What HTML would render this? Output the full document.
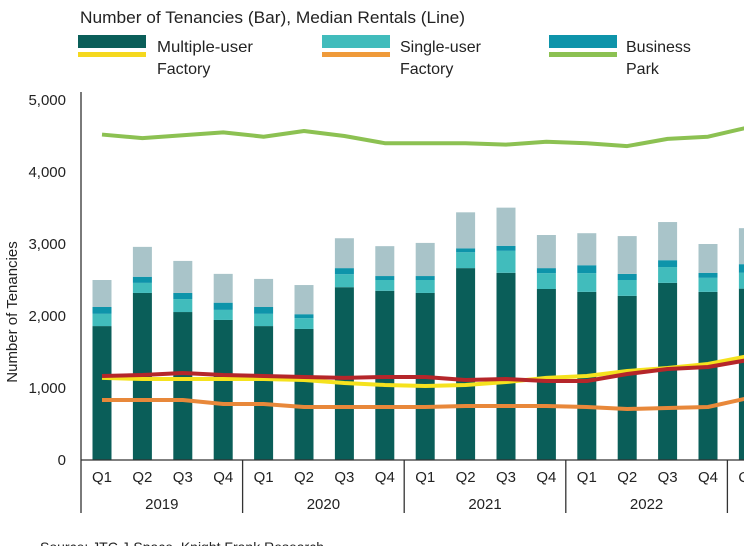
<!DOCTYPE html>
<html><head><meta charset="utf-8"><style>
html,body{margin:0;padding:0;background:#fff;overflow:hidden}
svg{display:block;font-family:"Liberation Sans",sans-serif}
</style></head><body>
<svg id="chart" width="744" height="546" viewBox="0 0 744 546">
<text x="80" y="23" font-size="16.5" fill="#222" textLength="385" lengthAdjust="spacingAndGlyphs">Number of Tenancies (Bar), Median Rentals (Line)</text>
<g>
<rect x="78" y="35" width="68" height="13" fill="#0a5e59"/>
<rect x="78" y="52" width="68" height="5" fill="#f5d81e"/>
<text x="157" y="52" font-size="16" fill="#222" textLength="96" lengthAdjust="spacingAndGlyphs">Multiple-user</text>
<text x="157" y="74" font-size="16" fill="#222">Factory</text>
<rect x="322" y="35" width="68" height="13" fill="#41bcbc"/>
<rect x="322" y="52" width="68" height="5" fill="#ef9a3a"/>
<text x="400" y="52" font-size="16" fill="#222">Single-user</text>
<text x="400" y="74" font-size="16" fill="#222">Factory</text>
<rect x="549" y="35" width="68" height="13" fill="#0e94aa"/>
<rect x="549" y="52" width="68" height="5" fill="#8cc152"/>
<text x="626" y="52" font-size="16" fill="#222">Business</text>
<text x="626" y="74" font-size="16" fill="#222">Park</text>
</g>
<text transform="translate(17,312) rotate(-90)" text-anchor="middle" font-size="15" fill="#222">Number of Tenancies</text>
<g id="plot"></g>
<text x="40" y="552" font-size="14" fill="#222">Source: JTC J-Space, Knight Frank Research</text>
</svg>
<script>
const quarters=["Q1","Q2","Q3","Q4","Q1","Q2","Q3","Q4","Q1","Q2","Q3","Q4","Q1","Q2","Q3","Q4","Q1"];
const years=["2019","2020","2021","2022","2023"];
const multipleUser=[1860,2320,2055,1945,1860,1820,2400,2350,2320,2665,2600,2375,2335,2280,2460,2335,2380];
const singleUser=[170,140,180,140,170,150,180,150,180,220,305,220,260,220,220,195,220];
const businessPark=[95,85,85,100,95,55,85,55,55,55,70,70,110,85,95,70,120];
const others=[375,415,445,400,390,405,415,415,460,500,530,460,445,525,530,400,500];
const redLine=[1167,1180,1208,1180,1167,1153,1140,1153,1153,1111,1125,1097,1097,1194,1264,1292,1390];
const yellowLine=[1140,1125,1125,1125,1125,1111,1069,1042,1028,1042,1083,1140,1167,1236,1278,1333,1444];
const orangeLine=[833,833,833,778,778,736,736,736,736,750,750,750,736,708,722,736,861];
const greenLine=[4520,4470,4510,4550,4490,4570,4500,4400,4400,4400,4380,4420,4400,4360,4460,4490,4620];
const yTicks=[0,1000,2000,3000,4000,5000];

const NS="http://www.w3.org/2000/svg";
const plot=document.getElementById('plot');
const x0=81, y0=460, step=40.4, bw=19;
const yScale=v=>y0-v*0.072;
const xScale=i=>x0+21+i*step;
function mk(tag,attrs){const e=document.createElementNS(NS,tag);for(const k in attrs)e.setAttribute(k,attrs[k]);plot.appendChild(e);return e;}

yTicks.forEach(t=>{
  const e=mk('text',{x:66,y:yScale(t)+5,'text-anchor':'end','font-size':15,fill:'#222'});
  e.textContent=t.toLocaleString('en-US');
  
  
});

const segs=[[multipleUser,'#0a5e59','bar-multiple-user'],[singleUser,'#41bcbc','bar-single-user'],[businessPark,'#0e94aa','bar-business-park'],[others,'#a9c4c9','bar-others']];
quarters.forEach((q,i)=>{
  let base=0;
  segs.forEach(([arr,col,nm])=>{
    const v=arr[i];
    const r=mk('rect',{x:xScale(i)-bw/2,y:yScale(base+v),width:bw,height:v*0.072,fill:col});
    
    
    base+=v;
  });
  const t=mk('text',{x:xScale(i),y:482,'text-anchor':'middle','font-size':15,fill:'#222'});
  t.textContent=q;
  
  
});

const lines=[[greenLine,'#8cc152','line-business-park'],[orangeLine,'#e8883a','line-single-user'],[yellowLine,'#f5e21e','line-multiple-user'],[redLine,'#b5262a','line-red']];
lines.forEach(([arr,col,nm])=>{
  const p=mk('polyline',{points:arr.map((v,i)=>xScale(i)+','+yScale(v)).join(' '),fill:'none',stroke:col,'stroke-width':4,'stroke-linejoin':'round'});
  
  
});

const ax=mk('line',{x1:x0,y1:92,x2:x0,y2:y0,stroke:'#333','stroke-width':1.3});


const bx=mk('line',{x1:x0,y1:y0,x2:744,y2:y0,stroke:'#333','stroke-width':1.3});


years.forEach((yr,k)=>{
  const sx=x0+k*4*step;
  const s=mk('line',{x1:sx,y1:y0,x2:sx,y2:513,stroke:'#333','stroke-width':1.3});
  
  
  const t=mk('text',{x:sx+2*step,y:509,'text-anchor':'middle','font-size':15,fill:'#222'});
  t.textContent=yr;
  
  
});
</script>
</body></html>
